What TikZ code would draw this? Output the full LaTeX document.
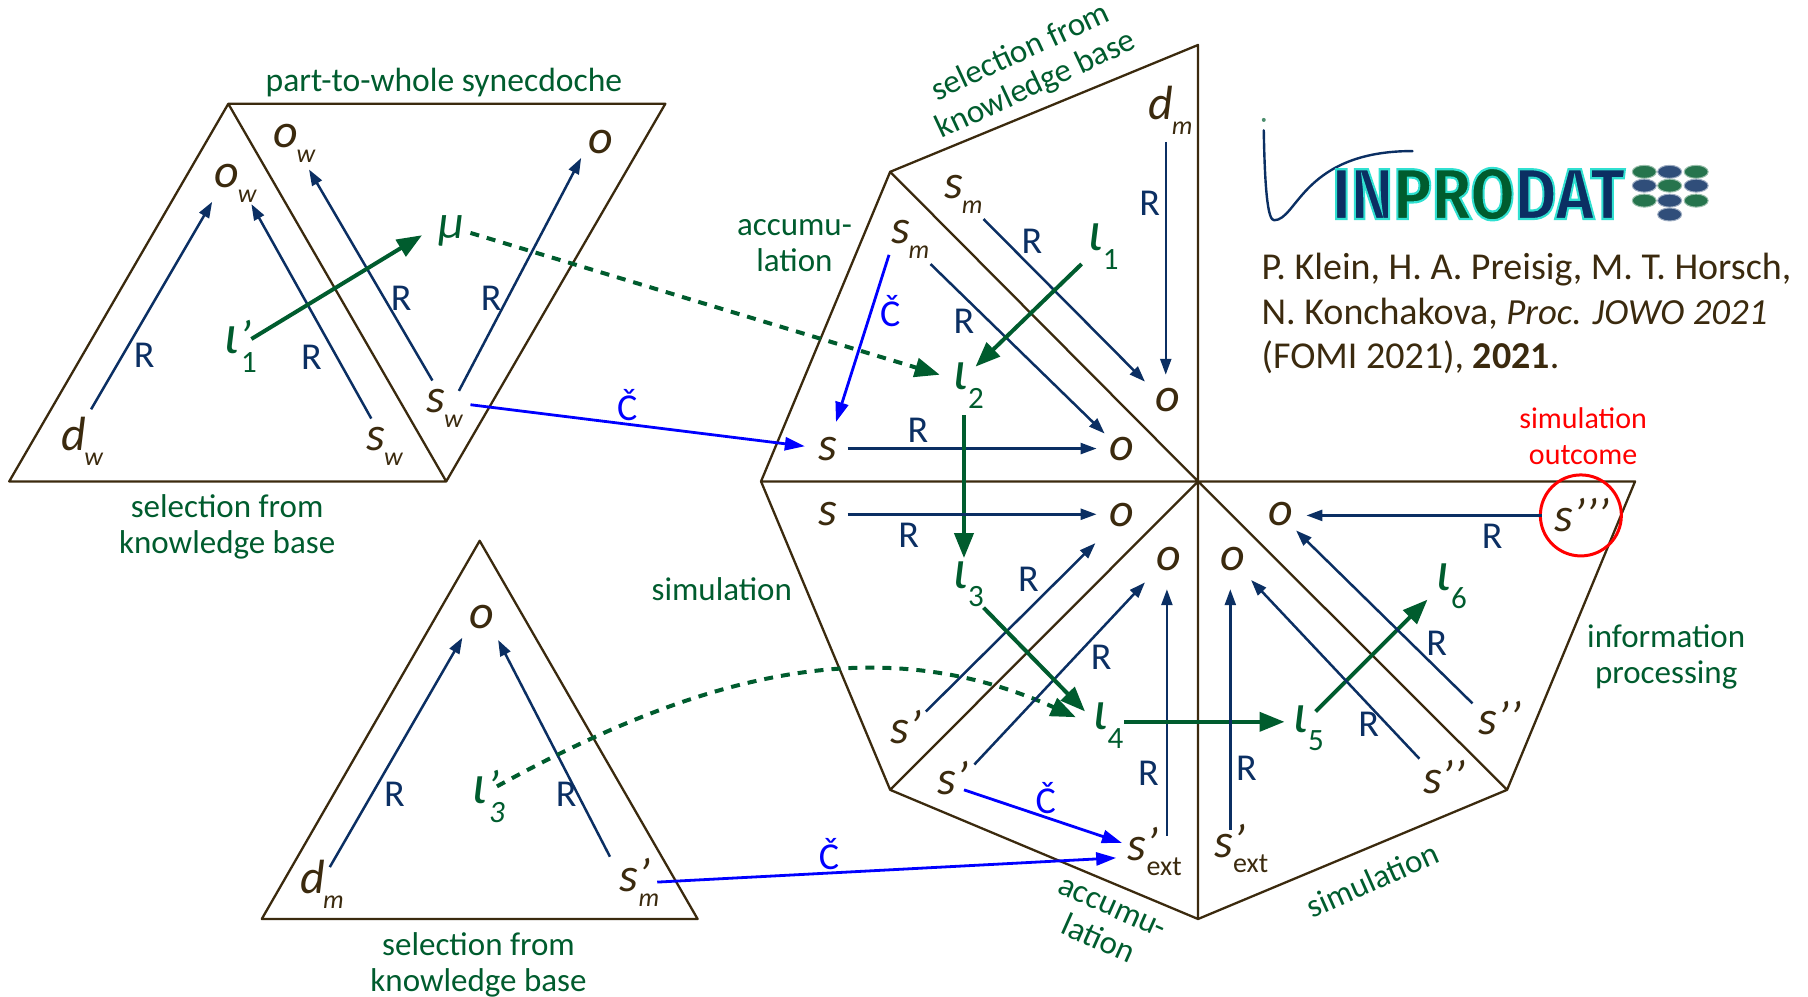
\documentclass[tikz,border=0pt]{standalone}
\usepackage{fontspec}
\setmainfont{Carlito}
\newfontfamily\logofont{Fira Sans}
\usetikzlibrary{arrows.meta,shapes.geometric}
\definecolor{brn}{HTML}{3B2A0E}
\definecolor{nvy}{HTML}{0B2F63}
\definecolor{grn}{HTML}{005C2E}
\definecolor{blu}{HTML}{0000FF}
\newcommand\lsub[1]{\hspace{-1.5pt}\raisebox{-15pt}{\fontsize{26}{26}\selectfont #1}}
\newcommand\dsub[1]{\raisebox{-15pt}{\fontsize{31}{31}\selectfont\upshape #1}}
\newcommand\dsubi[1]{\raisebox{-15pt}{\fontsize{31}{31}\selectfont #1}}
\newcommand\xsub[1]{\raisebox{-15pt}{\fontsize{28}{28}\selectfont\upshape #1}}
\newcommand\iot{\raisebox{3.5pt}{\fontsize{56}{56}\selectfont ι}}
\newcommand\iotp{\raisebox{3.5pt}{\fontsize{56}{56}\selectfont ι\fontsize{48}{48}\selectfont ’}}
\newcommand\lpr{’}
\newcommand\logoltr[2]{{\color{#1}\special{pdf:code 2 Tr 2.2 w 0.19 0.88 0.82 RG}#2}}
\tikzset{
  edgeb/.style={draw=brn,line width=2.3pt,line join=round},
  lab/.style={anchor=base west,inner sep=0pt,text=brn,font=\fontsize{48}{48}\selectfont\itshape},
  glab/.style={lab,text=grn},
  rr/.style={inner sep=0pt,text=nvy,font=\fontsize{38}{38}\selectfont},
  cc/.style={inner sep=0pt,text=blu,font=\fontsize{38}{38}\selectfont},
  capt/.style={inner sep=0pt,text=grn,align=center,font=\fontsize{33}{36}\selectfont},
  relar/.style={draw=nvy,line width=2.5pt,-{Triangle[length=16pt,width=11pt]}},
  gar/.style={draw=grn,line width=4pt,-{Triangle[length=25pt,width=19pt]}},
  gda/.style={gar,line width=4pt,dash pattern=on 9pt off 8pt},
  bluar/.style={draw=blu,line width=2.8pt,-{Triangle[length=20pt,width=13pt]}},
}
\begin{document}
\begin{tikzpicture}[x=1.15306pt,y=-1.15306pt]
\useasboundingbox (0,0) rectangle (1568,864.65);
% triangles
\coordinate (A) at (8,417.5); \coordinate (B) at (198,90); \coordinate (C) at (387,417.5); \coordinate (D) at (577,90);
\draw[edgeb] (A) -- (B) -- (C) -- cycle (B) -- (D) -- (C);
\coordinate (E) at (227,797); \coordinate (F) at (416,469); \coordinate (G) at (605,797);
\draw[edgeb] (E) -- (F) -- (G) -- cycle;
\coordinate (O) at (1039,417.5);
\coordinate (P1) at (660,417.5); \coordinate (P2) at (772,149); \coordinate (P3) at (1039,39); \coordinate (P4) at (1418,417.5);
\coordinate (P5) at (1307,685); \coordinate (P6) at (1039,797); \coordinate (P7) at (772,685);
\draw[edgeb] (O) -- (P1) -- (P2) -- (P3) -- (O) -- (P2);
\draw[edgeb] (P1) -- (P7) -- (P6) -- (O) -- (P7);
\draw[edgeb] (P6) -- (P5) -- (P4) -- (O) -- (P5);
% letters
\node[lab] (dw) at (53,391) {d\lsub{w}};
\node[lab] (ow1) at (186,163) {o\lsub{w}};
\node[lab] (ow2) at (237,128) {o\lsub{w}};
\node[lab] (o1) at (510,133) {o};
\node[glab] (mu) at (380,207) {μ};
\node[glab] (l1p) at (194,310) {\iotp\hspace{-10pt}\dsub{1}};
\node[lab] (sw1) at (318,391) {s\lsub{w}};
\node[lab] (sw2) at (370,358) {s\lsub{w}};
\node[lab] (dm1) at (260,775) {d\lsub{m}};
\node[lab] (o2b) at (407,545) {o};
\node[glab] (l3p) at (409,700) {\iotp\hspace{-10pt}\dsubi{3}};
\node[lab] (smp) at (537,773) {s\lpr\hspace{-10pt}\lsub{m}};
\node[lab] (dm2) at (996,104) {d\lsub{m}};
\node[lab] (sm1) at (819,172) {s\lsub{m}};
\node[lab] (sm2) at (773,211) {s\lsub{m}};
\node[lab] (ot) at (1002,357) {o};
\node[glab] (l1) at (943,220.5) {\iot\dsub{1}};
\node[glab] (l2) at (826,341) {\iot\dsub{2}};
\node[lab] (s1) at (710,399) {s};
\node[lab] (o2) at (962,399) {o};
\node[lab] (s2) at (710,456) {s};
\node[lab] (o3) at (962,457) {o};
\node[glab] (l3) at (826,513) {\iot\dsub{3}};
\node[lab] (sp1) at (772,645) {s\lpr};
\node[lab] (sp2) at (813,689) {s\lpr};
\node[lab] (o4) at (1003,495) {o};
\node[glab] (l4) at (947,636) {\iot\dsub{4}};
\node[glab] (l5) at (1121,638) {\iot\dsub{5}};
\node[lab] (spx1) at (978,746) {s\lpr\hspace{-12pt}\xsub{ext}};
\node[lab] (spx2) at (1053,744) {s\lpr\hspace{-12pt}\xsub{ext}};
\node[lab] (o5) at (1058,495) {o};
\node[lab] (o6) at (1100,456) {o};
\node[glab] (l6) at (1245,515) {\iot\dsub{6}};
\node[lab] (spp1) at (1282,637) {s\lpr\lpr};
\node[lab] (spp2) at (1234,688) {s\lpr\lpr};
\node[lab] (sppp) at (1348,461) {s\lpr\lpr\lpr};
\node[circle,draw=red,line width=3pt,minimum size=81pt,inner sep=0pt] (outc) at (1371,447) {};
% R labels
\node[rr] (r1) at (125,308) {R};
\node[rr] (r2) at (270,310) {R};
\node[rr] (r3) at (348,259) {R};
\node[rr] (r4) at (426,259) {R};
\node[rr] (r5) at (342,689) {R};
\node[rr] (r6) at (491,689) {R};
\node[rr] (r7) at (997,176) {R};
\node[rr] (r8) at (895,209) {R};
\node[rr] (r9) at (836,279) {R};
\node[rr] (r10) at (796,373) {R};
\node[rr] (r11) at (788,464) {R};
\node[rr] (r12) at (892,502) {R};
\node[rr] (r13) at (955,570) {R};
\node[rr] (r14) at (996,671) {R};
\node[rr] (r15) at (1081,666) {R};
\node[rr] (r16) at (1187,628) {R};
\node[rr] (r17) at (1246,558) {R};
\node[rr] (r18) at (1294,465) {R};
\node[cc] (c1) at (544,351) {Č};
\node[cc] (c2) at (772,270) {Č};
\node[cc] (c3) at (907,692) {Č};
\node[cc] (c4) at (719,741) {Č};
% captions
\node[capt,font=\fontsize{33.6}{36}\selectfont] (t1) at (385,72) {part-to-whole synecdoche};
\node[capt] (t2) at (197,456.5) {selection from\\knowledge base};
\node[capt] (t3) at (415,837) {selection from\\knowledge base};
\node[capt,rotate=25] (t4) at (892,60) {selection from\\knowledge base};
\node[capt] (t5) at (689,213) {accumu-\\lation};
\node[capt] (t6) at (626,511) {simulation};
\node[capt,rotate=-24] (t7) at (958,802) {accumu-\\lation};
\node[capt,rotate=24] (t8) at (1190,763) {simulation};
\node[capt] (t9) at (1445,570) {information\\processing};
\node[capt,text=red,font=\fontsize{30}{36}\selectfont] (t10) at (1373,378) {simulation\\outcome};
% citation
\node[anchor=north west,inner sep=0pt,text=brn,align=left,font=\fontsize{38}{44.4}\selectfont] (cite) at (1094,219.5)
 {P. Klein, H. A. Preisig, M. T. Horsch,\\N. Konchakova, {\fontsize{36.8}{44.4}\selectfont\itshape Proc. JOWO 2021}\\(FOMI 2021), \textbf{2021}.};
% logo
\coordinate (q0) at (1096,113); \coordinate (q1) at (1225,131);
\draw[nvy,line width=2.4pt,line cap=round] (q0) .. controls (1097,170) and (1100,191) .. (1105,191) .. controls (1125,191) and (1130,131) .. (q1);
\node[circle,fill=grn!70,inner sep=0pt,minimum size=4pt] (dot) at (1096,104) {};
\node[anchor=base west,inner sep=0pt,xscale=0.89,font=\logofont\bfseries\fontsize{72}{72}\selectfont] (logo) at (1155,190)
 {\logoltr{nvy}{IN}\logoltr{grn}{PRO}\logoltr{nvy}{DAT}\special{pdf:code 0 Tr 0 w}};
\foreach \px/\py/\pc [count=\i] in {1426/149/grn,1448/149/nvy,1471/149/grn,1426/161/nvy,1448/161/grn,1471/161/nvy,1426/174/grn,1448/174/nvy,1471/174/grn,1448/186/nvy}
  \node[ellipse,fill=\pc!85,draw=\pc!40,line width=1pt,minimum width=24pt,minimum height=13pt,inner sep=0pt] (ov\i) at (\px,\py) {};
% connectors
\draw[relar] ([shift={(26,-36)}]dw.base west) -- ([shift={(-2,12)}]ow1.base west);
\draw[relar] ([shift={(4,-28)}]sw1.base west) -- ([shift={(32,14)}]ow1.base west);
\draw[relar] ([shift={(5,-28)}]sw2.base west) -- ([shift={(31,19)}]ow2.base west);
\draw[relar] ([shift={(28,-19)}]sw2.base west) -- ([shift={(-6,4)}]o1.base west);
\draw[gar] ([shift={(24,-16)}]l1p.base west) -- ([shift={(-14,-3)}]mu.base west);
\draw[gda] ([shift={(28,-5)}]mu.base west) -- ([shift={(-11,-16)}]l2.base west);
\draw[bluar] ([shift={(38,-7)}]sw2.base west) -- ([shift={(-12,-12)}]s1.base west);
\draw[relar] ([shift={(26,-23)}]dm1.base west) -- ([shift={(-6,8)}]o2b.base west);
\draw[relar] ([shift={(-8,-30)}]smp.base west) -- ([shift={(25,10)}]o2b.base west);
\draw[bluar] ([shift={(33,-8)}]smp.base west) -- ([shift={(-10,-2)}]spx1.base west);
\draw[gda] ([shift={(22,-18)}]l3p.base west) .. controls (611,583) and (763,545.5) .. ([shift={(-14,-14)}]l4.base west);
\draw[relar] ([shift={(15,19)}]dm2.base west) -- ([shift={(9,-32)}]ot.base west);
\draw[relar] ([shift={(34,18)}]sm1.base west) -- ([shift={(-9,-26)}]ot.base west);
\draw[relar] ([shift={(34,18)}]sm2.base west) -- ([shift={(-4,-23)}]o2.base west);
\draw[bluar] ([shift={(-2,10)}]sm2.base west) -- ([shift={(15,-33)}]s1.base west);
\draw[relar] ([shift={(25,-10)}]s1.base west) -- ([shift={(-11,-10)}]o2.base west);
\draw[gar] ([shift={(-5,8.5)}]l1.base west) -- ([shift={(20,-23)}]l2.base west);
\draw[gar] ([shift={(10,19)}]l2.base west) -- ([shift={(10,-29)}]l3.base west);
\draw[relar] ([shift={(25,-10)}]s2.base west) -- ([shift={(-11,-11)}]o3.base west);
\draw[relar] ([shift={(31,-28)}]sp1.base west) -- ([shift={(-12,14)}]o3.base west);
\draw[relar] ([shift={(32,-26)}]sp2.base west) -- ([shift={(-10,10)}]o4.base west);
\draw[relar] ([shift={(34,-21)}]spx1.base west) -- ([shift={(9,16)}]o4.base west);
\draw[bluar] ([shift={(23,-4)}]sp2.base west) -- ([shift={(-5,-15)}]spx1.base west);
\draw[gar] ([shift={(27,14)}]l3.base west) -- ([shift={(-6,-19)}]l4.base west);
\draw[gar] ([shift={(28,-10)}]l4.base west) -- ([shift={(-7,-12)}]l5.base west);
\draw[gar] ([shift={(20,-21)}]l5.base west) -- ([shift={(-7,5)}]l6.base west);
\draw[relar] ([shift={(14,-24)}]spx2.base west) -- ([shift={(9,16)}]o5.base west);
\draw[relar] ([shift={(-3,-30)}]spp2.base west) -- ([shift={(27,8)}]o5.base west);
\draw[relar] ([shift={(-5,-27)}]spp1.base west) -- ([shift={(24,4)}]o6.base west);
\draw[relar] ([shift={(-11,-14)}]sppp.base west) -- ([shift={(33,-9)}]o6.base west);
\end{tikzpicture}
\end{document}
